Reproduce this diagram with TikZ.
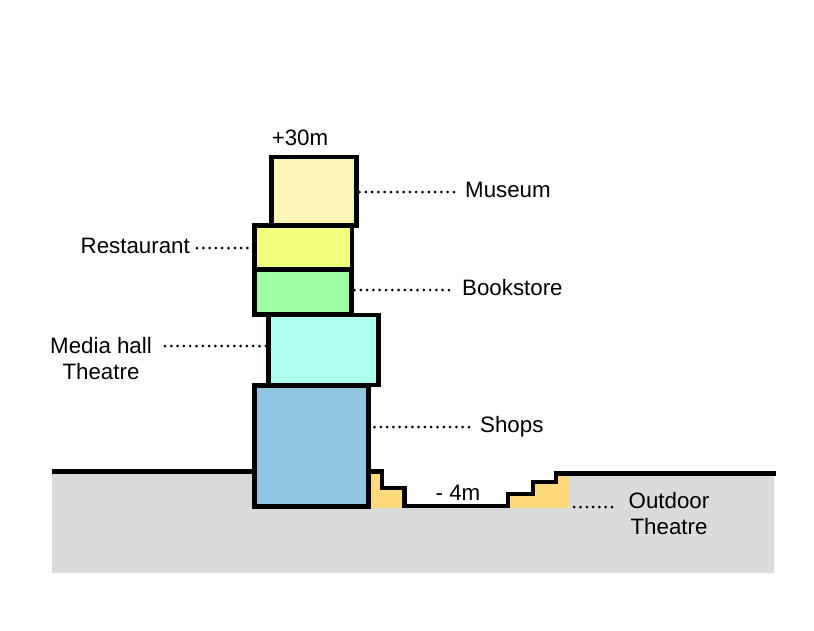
\documentclass[tikz,border=0pt]{standalone}
\usepackage{fontspec}
\setmainfont{Liberation Sans}
\usepackage{tikz}
\usetikzlibrary{positioning}
\definecolor{groundgray}{HTML}{DBDBDB}
\definecolor{seatyellow}{HTML}{FFD97A}
\tikzset{floorbox/.style = {draw, line width = 4.4pt, inner sep = 0, outer sep = 0, anchor = north west},
  lab/.style = {font = \fontsize{22.3}{26}\selectfont, inner sep = 0, text height = 15.5pt, text depth = 4.5pt},
  dots/.style = {line width = 3pt, line cap = round, dash pattern = on 0pt off 6.3pt},
  ground/.style = {line width = 4.4pt, miter limit = 10}}

\begin{document}
\begin{tikzpicture}[x=1pt, y=-1pt]
  \useasboundingbox (0, 0) rectangle (814, 630);

  % ground and seating
  \fill [groundgray] (52, 473) -- (382, 473) -- (382, 488) -- (404.5, 488) -- (404.5, 506) -- (508, 506) -- (508, 494) -- (533, 494) -- (533, 482) -- (556, 482) -- (556, 473) -- (774, 473) -- (774, 573) -- (52, 573) -- cycle;
  \fill [seatyellow] (368, 473) -- (381, 473) -- (381, 489) -- (405, 489) -- (405, 508) -- (368, 508) -- cycle;
  \fill [seatyellow] (510, 508) -- (510, 495) -- (534, 495) -- (534, 483) -- (557, 483) -- (557, 475) -- (569, 475) -- (569, 508) -- cycle;
  \draw [ground] (52, 471.5) -- (256, 471.5);
  \draw [ground] (368, 471.5) -- (382, 471.5) -- (382, 488) -- (404.5, 488) -- (404.5, 506) -- (508, 506) -- (508, 494) -- (533, 494) -- (533, 482) -- (556, 482) -- (556, 473.5) -- (776, 473.5);

  % building, top to bottom
  \foreach \name/\col/\x/\y/\w/\h in {museum/FBF6B5/271.5/157/85/69,
    restaurant/F2FF7D/254.5/225.5/97.5/44,
    bookstore/9FFFA5/254.5/269.5/97/45,
    media/ADFFEF/268.5/315/110/70,
    shops/8FC7E3/254.5/385.5/114/121} {
    \definecolor{boxcol}{HTML}{\col}
    \node [floorbox, fill = boxcol, minimum width = \w, minimum height = \h] (\name) at (\x, \y) {};
  }

  % labels
  \node [lab] (top) at (300, 140) {+30m};
  \node [lab] (low) at (458, 495) {- 4m};
  \node [lab, anchor = west] (labmuseum) at (465, 192) {Museum};
  \node [lab, anchor = east] (labrestaurant) at (190, 248) {Restaurant};
  \node [lab, anchor = west] (labbookstore) at (462, 290) {Bookstore};
  \node [lab, align = center, text height = {}, text depth = {}] (labmedia) at (101, 358.5) {Media hall\\Theatre};
  \node [lab, anchor = west] (labshops) at (480, 427) {Shops};
  \node [lab, align = center, text height = {}, text depth = {}] (laboutdoor) at (669, 513.5) {Outdoor\\Theatre};

  % dotted leaders
  \coordinate (endmedia) at (165, 346);
  \coordinate (endoutdoor) at (612, 507);
  \draw [dots, shorten >= 7pt, shorten <= 3pt] (museum.east |- labmuseum.west) -- (labmuseum.west);
  \draw [dots, shorten <= 7pt] (labrestaurant.east) -- (restaurant.west |- labrestaurant.east);
  \draw [dots, shorten >= 7pt, shorten <= 3pt] (bookstore.east |- labbookstore.west) -- (labbookstore.west);
  \draw [dots] (endmedia) -- (media.west |- endmedia);
  \draw [dots, shorten >= 10pt, shorten <= 6pt] (shops.east |- labshops.west) -- (labshops.west);
  \draw [dots] (endoutdoor) -- (570, 507);
\end{tikzpicture}
\end{document}
